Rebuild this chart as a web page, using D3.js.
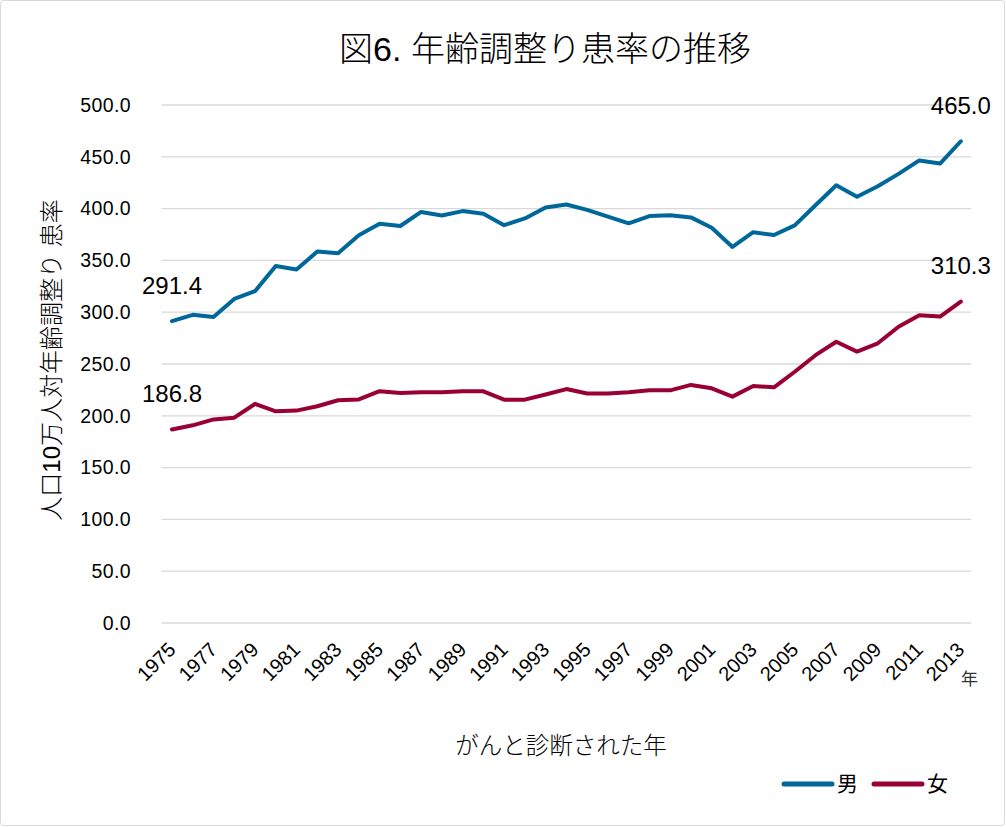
<!DOCTYPE html>
<html>
<head>
<meta charset="utf-8">
<script src="https://cdn.jsdelivr.net/npm/d3@7"></script>
<style>
  body { margin: 0; background: #fff; }
  svg { display: block; font-family: "Liberation Sans", Arial, "Noto Sans CJK JP", sans-serif; }
</style>
</head>
<body>
<div id="chart"></div>
<script>
// 年 (1975-2013)
const years = [1975,1976,1977,1978,1979,1980,1981,1982,1983,1984,1985,1986,1987,1988,1989,1990,
  1991,1992,1993,1994,1995,1996,1997,1998,1999,2000,2001,2002,2003,2004,2005,2006,2007,2008,
  2009,2010,2011,2012,2013];

// 男
const male = [291.4,297.5,295.3,312.8,320.3,344.5,341.3,358.5,357.0,374.3,385.3,383.2,396.8,393.3,
  397.6,395.0,384.0,390.5,401.0,404.0,398.8,392.2,385.8,392.8,393.6,391.5,381.5,363.0,377.2,
  374.5,383.8,403.2,422.5,411.5,421.5,433.5,446.5,443.5,465.0];

// 女
const female = [186.8,190.8,196.5,198.2,211.5,204.3,205.0,209.2,215.0,215.8,223.8,222.0,222.8,222.8,
  223.6,223.6,215.6,215.6,220.5,225.8,221.5,221.5,222.8,224.6,224.6,229.8,226.5,218.5,228.8,
  227.5,242.5,258.5,271.5,262.0,270.0,286.0,297.0,295.8,310.3];

const yTicks = [0,50,100,150,200,250,300,350,400,450,500];
const xTickYears = years.filter((d, i) => i % 2 === 0);

const series = [
  { name: "男", values: male, color: "#00679a" },
  { name: "女", values: female, color: "#990033" }
];

const width = 1006, height = 827;

const svg = d3.select("#chart")
  .append("svg")
  .attr("width", width)
  .attr("height", height);

// outer frame
svg.append("rect")
  .attr("x", 0.5).attr("y", 0.5)
  .attr("width", width - 2).attr("height", height - 2)
  .attr("rx", 3)
  .attr("fill", "#fff")
  .attr("stroke", "#d9d9d9");

const x = d3.scalePoint().domain(years).range([161.6, 971.2]).padding(0.5);
const y = d3.scaleLinear().domain([0, 500]).range([623, 105]);

// gridlines
svg.append("g")
  .selectAll("line")
  .data(yTicks)
  .enter()
  .append("line")
  .attr("x1", 161.6)
  .attr("x2", 971.2)
  .attr("y1", (d) => y(d))
  .attr("y2", (d) => y(d))
  .attr("stroke", "#d9d9d9")
  .attr("stroke-width", 1.3);

// y tick labels
svg.append("g")
  .selectAll("text")
  .data(yTicks)
  .enter()
  .append("text")
  .attr("x", 131)
  .attr("y", (d) => y(d))
  .attr("dy", "0.35em")
  .attr("text-anchor", "end")
  .attr("font-size", 19.5)
  .attr("letter-spacing", 0.4)
  .attr("fill", "#000")
  .text((d) => d.toFixed(1));

// x tick labels
svg.append("g")
  .selectAll("text")
  .data(xTickYears)
  .enter()
  .append("text")
  .attr("transform", (d) => `translate(${x(d) - 5},${641}) rotate(-45)`)
  .attr("dy", "0.7em")
  .attr("text-anchor", "end")
  .attr("font-size", 20)
  .attr("fill", "#000")
  .text((d) => d);

svg.append("text")
  .attr("x", 961).attr("y", 685)
  .attr("font-size", 17)
  .attr("fill", "#333")
  .text("年");

// lines
const line = d3.line()
  .x((d, i) => x(years[i]))
  .y((d) => y(d));

series.forEach((s) => {
  svg.append("path")
    .datum(s.values)
    .attr("fill", "none")
    .attr("stroke", s.color)
    .attr("stroke-width", 4)
    .attr("stroke-linejoin", "round")
    .attr("stroke-linecap", "round")
    .attr("d", line);
});

// data labels on first and last points
series.forEach((s) => {
  const n = s.values.length;
  [0, n - 1].forEach((i) => {
    svg.append("text")
      .attr("x", x(years[i]))
      .attr("y", y(s.values[i]) - 27.5)
      .attr("text-anchor", "middle")
      .attr("font-size", 24)
      .attr("fill", "#000")
      .text(s.values[i].toFixed(1));
  });
});

// title
svg.append("text")
  .attr("x", 545).attr("y", 61)
  .attr("text-anchor", "middle")
  .attr("font-size", 34)
  .attr("font-weight", 300)
  .attr("fill", "#000")
  .text("図6.  年齢調整り患率の推移");

// axis titles
svg.append("text")
  .attr("transform", "translate(60,360) rotate(-90)")
  .attr("text-anchor", "middle")
  .attr("font-size", 24)
  .attr("font-weight", 300)
  .attr("fill", "#000")
  .text("人口10万人対年齢調整り 患率");

svg.append("text")
  .attr("x", 561).attr("y", 754)
  .attr("text-anchor", "middle")
  .attr("font-size", 23.5)
  .attr("font-weight", 300)
  .attr("fill", "#000")
  .text("がんと診断された年");

// legend
const legend = svg.append("g")
  .selectAll("g")
  .data(series)
  .enter()
  .append("g")
  .attr("transform", (d, i) => `translate(${784 + i * 90},784)`);

legend.append("line")
  .attr("x1", 0).attr("x2", 48)
  .attr("stroke", (d) => d.color)
  .attr("stroke-width", 5)
  .attr("stroke-linecap", "round");

legend.append("text")
  .attr("x", 53)
  .attr("dy", "0.35em")
  .attr("font-size", 21)
  .attr("fill", "#000")
  .text((d) => d.name);
</script>
</body>
</html>
